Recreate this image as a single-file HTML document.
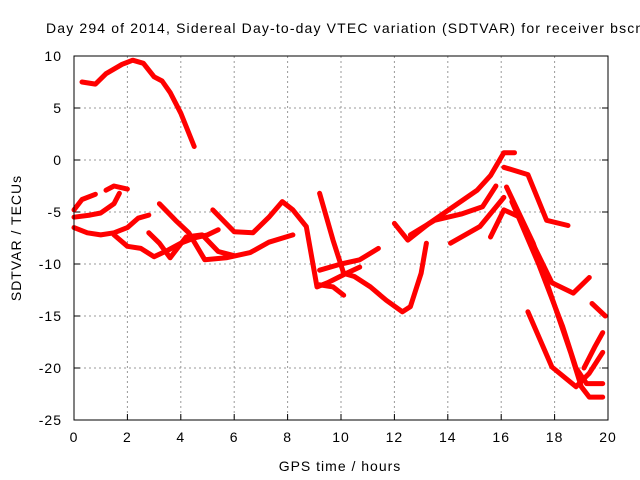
<!DOCTYPE html>
<html><head><meta charset="utf-8"><style>
body{margin:0;background:#fff}
svg{display:block;font-family:"Liberation Sans",sans-serif;font-size:14px;letter-spacing:1px}
</style></head><body>
<svg width="640" height="480" id="chart">
<text x="46" y="33" style="letter-spacing:1.15px">Day 294 of 2014, Sidereal Day-to-day VTEC variation (SDTVAR) for receiver bscn</text>
<text x="340" y="471" text-anchor="middle">GPS time / hours</text>
<text transform="translate(21,238) rotate(-90)" text-anchor="middle">SDTVAR / TECUs</text>
<g id="grid"></g><g id="ticks"></g><g id="series"></g>
<rect x="74" y="56" width="534" height="364" fill="none" stroke="#000" stroke-width="1"/>
</svg>
<script>
const xTicks=[0,2,4,6,8,10,12,14,16,18,20];
const yTicks=[10,5,0,-5,-10,-15,-20,-25];
const arc1=[[0.3,7.5],[0.8,7.3],[1.2,8.3],[1.8,9.2],[2.2,9.6],[2.6,9.3],[3,8],[3.3,7.6],[3.6,6.5],[4,4.5],[4.5,1.3]];
const arc2=[[0,-4.8],[0.3,-3.8],[0.8,-3.3]];
const arc3=[[0,-5.5],[0.6,-5.3],[1,-5.1],[1.5,-4.2],[1.7,-3.2]];
const arc4=[[1.2,-2.9],[1.5,-2.5],[2,-2.8]];
const arc5=[[0,-6.5],[0.5,-7],[1,-7.2],[1.5,-7],[2,-6.5],[2.4,-5.6],[2.8,-5.3]];
const arc6=[[1.5,-7.2],[2,-8.3],[2.5,-8.5],[3,-9.3],[3.5,-8.7],[4,-8],[4.5,-7.5],[5,-7.2],[5.4,-6.7]];
const arc7=[[3.2,-4.2],[3.8,-5.8],[4.3,-7],[4.9,-9.6],[5.7,-9.4],[6.6,-8.9],[7.3,-7.9],[8.2,-7.2]];
const arc8=[[2.8,-7],[3.2,-8],[3.6,-9.4],[4.2,-7.4],[4.8,-7.2],[5.4,-8.8],[6,-9.2]];
const arc9=[[5.2,-4.8],[6,-6.9],[6.7,-7],[7.3,-5.5],[7.8,-4],[8.2,-4.8],[8.7,-6.4],[9.1,-12.2],[9.5,-11.8],[10.2,-10.9],[10.7,-10.3]];
const arc10=[[9.2,-3.2],[9.7,-7.7],[10.1,-10.9],[10.5,-11.2],[11.1,-12.2],[11.7,-13.5],[12.3,-14.6],[12.6,-14.1],[13,-10.9],[13.2,-8]];
const arc11=[[9.2,-10.6],[10,-10],[10.7,-9.6],[11.4,-8.5]];
const arc12=[[9.2,-12],[9.7,-12.2],[10.1,-13]];
const arc13=[[12,-6.1],[12.5,-7.7],[13.3,-6.1],[14.2,-4.5],[15.1,-2.9],[15.6,-1.5],[16.1,0.7],[16.5,0.7]];
const arc14=[[12.6,-7.2],[13.5,-5.8],[14.5,-5.2],[15.3,-4.5],[15.8,-2.5]];
const arc15=[[16.1,-0.7],[17,-1.4],[17.7,-5.8],[18.5,-6.3]];
const arc16=[[14.1,-8],[15.2,-6.4],[16.1,-3.6]];
const arc17=[[15.6,-7.4],[16.1,-4.8],[16.7,-5.5],[17.9,-11.8],[18.7,-12.8],[19.3,-11.3]];
const arc18=[[16.2,-2.6],[17.2,-8],[18,-14],[18.6,-18.5],[19,-21.8],[19.3,-22.8],[19.8,-22.8]];
const arc19=[[16.4,-4],[17.4,-10],[18.3,-16],[18.8,-20],[19.2,-21.5],[19.8,-21.5]];
const arc20=[[17,-14.6],[17.9,-19.9],[18.8,-21.8],[19.3,-20.5],[19.8,-18.5]];
const arc21=[[19.4,-13.8],[19.9,-15]];
const arc22=[[19.1,-20],[19.5,-18],[19.8,-16.6]];
const allSeries=[arc1,arc2,arc3,arc4,arc5,arc6,arc7,arc8,arc9,arc10,arc11,arc12,arc13,arc14,arc15,arc16,arc17,arc18,arc19,arc20,arc21,arc22];
const X0=74,X1=608,Y0=56,Y1=420;
const xs=h=>X0+(h-0)/20*(X1-X0);
const ys=v=>Y0+(10-v)/35*(Y1-Y0);
const NS='http://www.w3.org/2000/svg';
function mk(t,a,p){const e=document.createElementNS(NS,t);for(const k in a)e.setAttribute(k,a[k]);p.appendChild(e);return e;}
const grid=document.getElementById('grid'),ticks=document.getElementById('ticks'),ser=document.getElementById('series');
xTicks.forEach(t=>{const x=xs(t);
 if(t>0&&t<20){const l=mk('line',{x1:x,x2:x,y1:Y0,y2:Y1,stroke:'#999','stroke-dasharray':'2,3'},grid);
 
 }
 const tl=mk('line',{x1:x,x2:x,y1:Y1,y2:Y1-6,stroke:'#000'},ticks);
 
 
 const tx=mk('text',{x:x,y:442,'text-anchor':'middle'},ticks);tx.textContent=t;
 
 });
yTicks.forEach(t=>{const y=ys(t);
 if(t<10&&t>-25){const l=mk('line',{x1:X0,x2:X1,y1:y,y2:y,stroke:'#999','stroke-dasharray':'2,3'},grid);
 
 }
 const tl=mk('line',{x1:X0,x2:X0+6,y1:y,y2:y,stroke:'#000'},ticks);
 
 
 const tl2=mk('line',{x1:X1,x2:X1-6,y1:y,y2:y,stroke:'#000'},ticks);
 
 
 const tx=mk('text',{x:62,y:y+5,'text-anchor':'end'},ticks);tx.textContent=t;
 
 });
allSeries.forEach((s,i)=>{const p=mk('polyline',{points:s.map(d=>xs(d[0]).toFixed(1)+','+ys(d[1]).toFixed(1)).join(' '),fill:'none',stroke:'#f00','stroke-width':5,'stroke-linejoin':'round','stroke-linecap':'round','stroke-dasharray':'none'},ser);
 
 });
</script>
</body></html>
